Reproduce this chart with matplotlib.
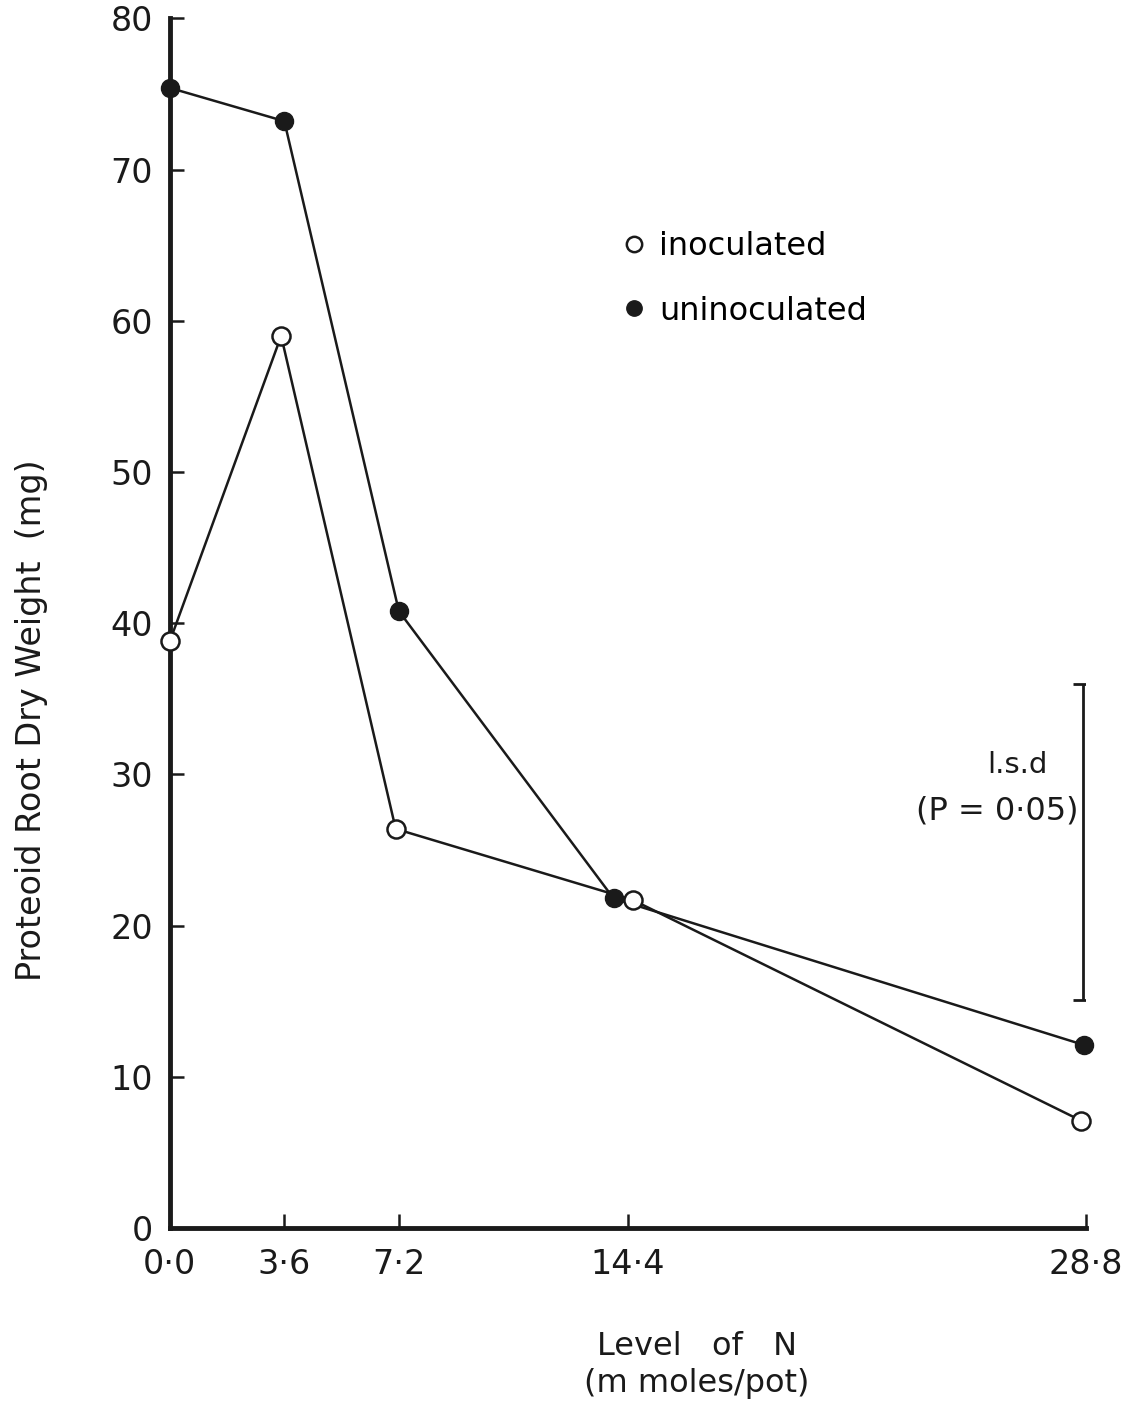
import matplotlib
matplotlib.use("Agg")
import matplotlib.pyplot as plt

# data
n_ticks = [0.0, 3.6, 7.2, 14.4, 28.8]
n_tick_labels = ["0·0", "3·6", "7·2", "14·4", "28·8"]

# points are drawn slightly apart where they overlap in the original
inoc_x = [0.0, 3.5, 7.1, 14.55, 28.65]
inoc_y = [38.8, 59.0, 26.4, 21.7, 7.1]
uninoc_x = [0.0, 3.6, 7.2, 13.95, 28.75]
uninoc_y = [75.4, 73.2, 40.8, 21.8, 12.1]

lsd_x = 28.7
lsd_lo, lsd_hi = 15.1, 36.0

plt.rcParams['font.family'] = ['DejaVu Sans']
ink = '#1a1a1a'

fig = plt.figure(figsize=(11.32, 14.10), dpi=100)
ax = fig.add_axes([0.150, 0.129, 0.8094, 0.858])

ax.plot(uninoc_x, uninoc_y, '-o', color=ink, lw=1.8, ms=13,
        mfc=ink, mec=ink, clip_on=False, zorder=3, label='uninoculated')
ax.plot(inoc_x, inoc_y, '-o', color=ink, lw=1.8, ms=13,
        mfc='white', mec=ink, mew=1.8, clip_on=False, zorder=4, label='inoculated')

# l.s.d bar
ax.vlines(lsd_x, lsd_lo, lsd_hi, color=ink, lw=2)
ax.hlines([lsd_lo, lsd_hi], lsd_x - 0.3, lsd_x + 0.3, color=ink, lw=2)
ax.text(26.65, 30.6, "l.s.d", ha='center', va='center', fontsize=21, color=ink)
ax.text(26.0, 27.6, "(P = 0·05)", ha='center', va='center', fontsize=23, color=ink)

# legend
h, l = ax.get_legend_handles_labels()
ax.legend(h[::-1], l[::-1], loc='upper left', bbox_to_anchor=(0.475, 0.848),
          frameon=False, handlelength=0, handletextpad=0.8, labelspacing=1.05,
          fontsize=23, markerscale=0.85)

ax.set_xlim(0, 28.8)
ax.set_ylim(0, 80)
ax.set_xticks(n_ticks)
ax.set_xticklabels(n_tick_labels)
ax.set_yticks(range(0, 81, 10))

ax.spines['top'].set_visible(False)
ax.spines['right'].set_visible(False)
for s in ['left', 'bottom']:
    ax.spines[s].set_linewidth(3.5)
    ax.spines[s].set_color(ink)

ax.tick_params(axis='both', direction='in', length=10, width=1.8,
               colors=ink, labelsize=24)
ax.tick_params(axis='y', pad=12)
ax.tick_params(axis='x', pad=14)

ax.set_ylabel("Proteoid Root Dry Weight  (mg)", fontsize=24, color=ink)
ax.yaxis.set_label_coords(-0.133, 0.42)
ax.set_xlabel("Level   of   N\n(m moles/pot)", fontsize=23, color=ink,
              linespacing=1.25)
ax.xaxis.set_label_coords(0.575, -0.085)

fig.savefig("out.png", dpi=100, facecolor='white')
